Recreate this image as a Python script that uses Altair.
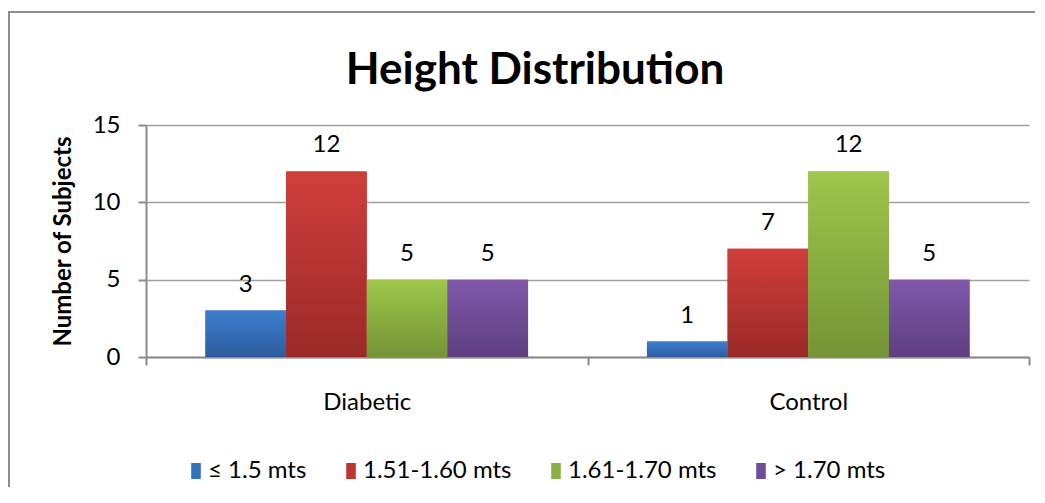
import altair as alt
import pandas as pd

groups = ["Diabetic", "Control"]
series = ["≤ 1.5 mts", "1.51-1.60 mts", "1.61-1.70 mts", "> 1.70 mts"]
diabetic = [3, 12, 5, 5]
control = [1, 7, 12, 5]
chart_title = "Height Distribution"

mid_colors = ["#3570BA", "#BE3633", "#8BB043", "#6F4F98"]
grad_top = ["#3D7ECD", "#D03E3B", "#9FC64C", "#8059AA"]
grad_bot = ["#2C5C9E", "#9A2A28", "#749436", "#5D3F7F"]

rows = []
for g, vals in zip(groups, [diabetic, control]):
    for s, v in zip(series, vals):
        rows.append({"group": g, "series": s, "value": v})
df = pd.DataFrame(rows)

FONT = "Lato"
FS = 24

x_enc = alt.X("group:N", sort=groups, title=None,
              scale=alt.Scale(paddingInner=0, paddingOuter=0),
              axis=alt.Axis(labelAngle=0, labelFontSize=FS, labelFont=FONT, labelColor="#000",
                            tickBand="extent", tickSize=8, tickColor="#8c8c8c", tickWidth=2,
                            domainColor="#8c8c8c", domainWidth=2, labelPadding=25, grid=False))
xoff = alt.XOffset("series:N", sort=series,
                   scale=alt.Scale(paddingInner=0, paddingOuter=0.737))
y_enc = alt.Y("value:Q", title="Number of Subjects",
              scale=alt.Scale(domain=[0, 15]),
              axis=alt.Axis(values=[0, 5, 10, 15], labelFontSize=FS, labelFont=FONT,
                            labelColor="#000", tickSize=8, tickColor="#8c8c8c", tickWidth=2,
                            domainColor="#8c8c8c", domainWidth=2, gridColor="#a0a0a0",
                            gridWidth=1.5, labelPadding=18, titleFontSize=FS,
                            titleFont=FONT, titleFontWeight="bold", titleColor="#000",
                            titlePadding=17))

base = alt.Chart(df)

legend_bars = base.mark_bar().encode(
    x=x_enc, xOffset=xoff, y=y_enc,
    color=alt.Color("series:N", sort=series,
                    scale=alt.Scale(domain=series, range=mid_colors),
                    legend=alt.Legend(title=None, orient="none", direction="horizontal",
                                      legendX=38, legendY=334,
                                      symbolType="M-0.6,-1H0.6V1H-0.6Z", symbolSize=256,
                                      symbolStrokeWidth=0, labelFontSize=FS, labelFont=FONT,
                                      labelColor="#000", labelOffset=0, columnPadding=32)),
)

layers = [legend_bars]
for s, top, bot in zip(series, grad_top, grad_bot):
    layers.append(
        base.transform_filter(alt.datum.series == s).mark_bar(
            color=alt.Gradient(gradient="linear", x1=0, y1=0, x2=0, y2=1,
                               stops=[alt.GradientStop(color=top, offset=0),
                                      alt.GradientStop(color=bot, offset=1)])
        ).encode(x=x_enc, xOffset=xoff, y=y_enc)
    )

labels = base.mark_text(fontSize=FS, font=FONT, color="#000", baseline="middle", dy=-26).encode(
    x=x_enc, xOffset=xoff, y=y_enc, text="value:Q")
layers.append(labels)

title_df = pd.DataFrame({"t": [chart_title]})
title_mark = alt.Chart(title_df).mark_text(
    fontSize=44, font=FONT, fontWeight="bold", color="#000", baseline="alphabetic",
    align="center", clip=False
).encode(x=alt.value(389), y=alt.value(-41), text="t:N")
layers.append(title_mark)

border = alt.Chart(pd.DataFrame({"a": [0]})).mark_rect(
    fill=None, stroke="#8c8c8c", strokeWidth=2, clip=False
).encode(x=alt.value(-137), x2=alt.value(920), y=alt.value(-113), y2=alt.value(400))
layers.append(border)

chart = alt.layer(*layers).properties(
    width=883, height=232,
    autosize=alt.AutoSizeParams(type="none"),
    padding={"left": 138, "top": 117, "right": 6, "bottom": 130},
    background="white",
).configure_view(stroke=None)

chart.save("out.html", embed_options={"renderer": "svg", "actions": False})
